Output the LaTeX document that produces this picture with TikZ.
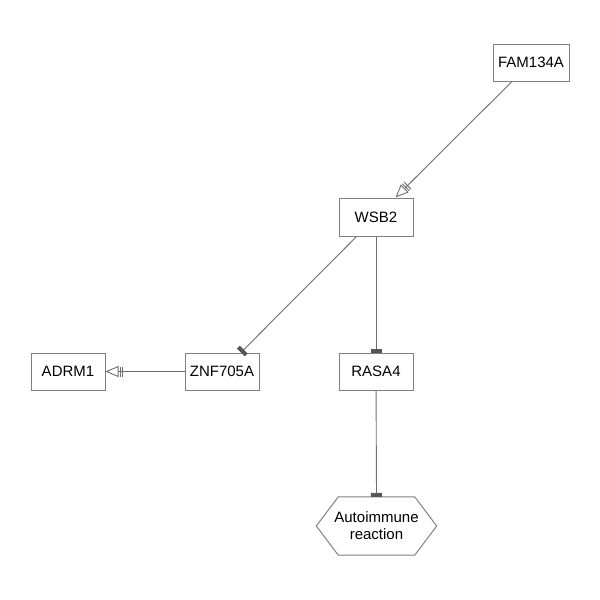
\documentclass[tikz,border=0pt]{standalone}
\usepackage{fontspec}
\setmainfont{Liberation Sans}
\usetikzlibrary{arrows.meta,calc}
\definecolor{boxline}{HTML}{808080}
\definecolor{edgeline}{HTML}{6E6E6E}
\definecolor{barcol}{HTML}{555555}
\tikzset{
  genebox/.style={draw=boxline,line width=1pt,fill=white,minimum width=74pt,minimum height=37pt,inner sep=0pt,font=\fontsize{15}{17}\selectfont},
  hexbox/.style={minimum width=120pt,minimum height=58pt,inner sep=0pt,align=center,font=\fontsize{15}{17}\selectfont},
  edge/.style={draw=edgeline,line width=0.9pt},
  activates/.style={edge,-{Bar[width=10pt,line width=0.9pt,sep=1.5pt] Bar[width=10pt,line width=0.9pt,sep=1pt] Triangle[open,length=13pt,width=11pt,line width=0.9pt]}},
  inhibits/.style={edge,-{Rectangle[length=4pt,width=11pt,color=barcol]}}
}
\begin{document}
\begin{tikzpicture}[x=1pt,y=-1pt]
\useasboundingbox (0,0) rectangle (600,600);
\node[genebox,minimum width=76pt] (fam) at (531,62.5) {FAM134A};
\node[genebox,minimum height=38pt] (wsb) at (376,217) {WSB2};
\node[genebox] (znf) at (222,371.5) {ZNF705A};
\node[genebox] (rasa) at (376,371.5) {RASA4};
\node[genebox] (adrm) at (68,371.5) {ADRM1};
\node[hexbox] (auto) at (376.5,526) {Autoimmune\\reaction};
\draw[draw=boxline,line width=1pt]
  (auto.west) -- ($(auto.north west)+(22,0)$) -- ($(auto.north east)+(-22,0)$)
  -- (auto.east) -- ($(auto.south east)+(-22,0)$) -- ($(auto.south west)+(22,0)$) -- cycle;
\draw[activates] (fam) -- (wsb);
\draw[inhibits] (wsb) -- (znf);
\draw[inhibits] (wsb) -- (rasa);
\draw[activates] (znf) -- (adrm);
\draw[inhibits] (rasa) -- (auto.north);
\end{tikzpicture}
\end{document}
